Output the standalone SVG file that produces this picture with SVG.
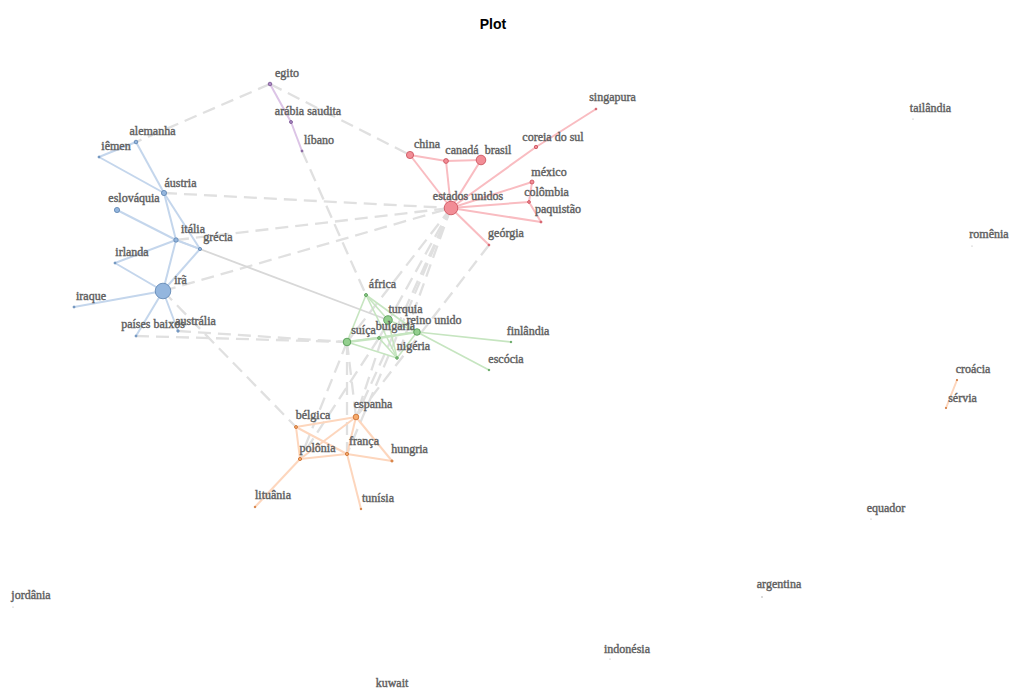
<svg xmlns="http://www.w3.org/2000/svg" width="1009" height="688" viewBox="0 0 1009 688">
<style>
.t{font-family:"Liberation Serif","DejaVu Serif",serif;font-size:12px;fill:#606060;text-anchor:middle;stroke:#606060;stroke-width:0.4}
.title{font-family:"Liberation Sans",Arial,sans-serif;font-size:14px;font-weight:bold;fill:#000;text-anchor:middle}
.gd{stroke:#e0e0e0;stroke-width:2.3;stroke-dasharray:13 7;fill:none}
.gs{stroke:#d8d8d8;stroke-width:1.8;fill:none}
.eb{stroke:#c4d6ec;stroke-width:2;fill:none}
.er{stroke:#f9bcc1;stroke-width:2;fill:none}
.eg{stroke:#c6e5c0;stroke-width:1.6;fill:none}
.eo{stroke:#fdd6bd;stroke-width:2;fill:none}
.ep{stroke:#dcc4e6;stroke-width:2;fill:none}
.nb{fill:#94b6de;stroke:#5a82ae;stroke-width:0.8}
.nr{fill:#f28d96;stroke:#c84a55;stroke-width:0.8}
.ng{fill:#93cf8e;stroke:#4a944a;stroke-width:0.8}
.no{fill:#f6aa6c;stroke:#c86a28;stroke-width:0.8}
.np{fill:#ad8ac6;stroke:#74508e;stroke-width:0.8}
.nx{fill:#aaa;stroke:none}
</style>
<rect width="1009" height="688" fill="#fff"/>
<text class="title" x="493" y="29">Plot</text>
<g id="connectors">
  <line class="gd" x1="270" y1="84" x2="410" y2="155"/>
  <line class="gd" x1="270" y1="84" x2="136" y2="142"/>
  <line class="gd" x1="302" y1="151" x2="366" y2="295"/>
  <line class="gd" x1="164" y1="193" x2="451" y2="208"/>
  <line class="gd" x1="176" y1="240" x2="451" y2="208"/>
  <line class="gd" x1="163" y1="291" x2="451" y2="208"/>
  <line class="gd" x1="163" y1="291" x2="296" y2="427"/>
  <line class="gd" x1="136" y1="336" x2="347" y2="342"/>
  <line class="gd" x1="178" y1="331" x2="347" y2="342"/>
  <line class="gd" x1="347" y1="342" x2="300" y2="459"/>
  <line class="gd" x1="347" y1="342" x2="347" y2="454"/>
  <line class="gd" x1="347" y1="342" x2="356" y2="417"/>
  <line class="gd" x1="451" y1="208" x2="347" y2="342"/>
  <line class="gd" x1="451" y1="208" x2="379" y2="338"/>
  <line class="gd" x1="451" y1="208" x2="397" y2="358"/>
  <line class="gd" x1="451" y1="208" x2="356" y2="417"/>
  <line class="gd" x1="451" y1="208" x2="347" y2="454"/>
  <line class="gd" x1="489" y1="245" x2="356" y2="417"/>
  <line class="gd" x1="379" y1="338" x2="300" y2="459"/>
  <line class="gd" x1="388" y1="320" x2="356" y2="417"/>
  <line class="gs" x1="176" y1="240" x2="388" y2="320"/>
  <line class="ep" x1="270" y1="84" x2="291" y2="122"/>
  <line class="ep" x1="291" y1="122" x2="302" y2="151"/>
  <line class="eb" x1="136" y1="142" x2="99" y2="157"/>
  <line class="eb" x1="99" y1="157" x2="164" y2="193"/>
  <line class="eb" x1="136" y1="142" x2="164" y2="193"/>
  <line class="eb" x1="164" y1="193" x2="176" y2="240"/>
  <line class="eb" x1="164" y1="193" x2="200" y2="249"/>
  <line class="eb" x1="117" y1="210" x2="176" y2="240"/>
  <line class="eb" x1="176" y1="240" x2="200" y2="249"/>
  <line class="eb" x1="176" y1="240" x2="115" y2="263"/>
  <line class="eb" x1="115" y1="263" x2="163" y2="291"/>
  <line class="eb" x1="176" y1="240" x2="163" y2="291"/>
  <line class="eb" x1="200" y1="249" x2="163" y2="291"/>
  <line class="eb" x1="163" y1="291" x2="74" y2="307"/>
  <line class="eb" x1="163" y1="291" x2="136" y2="336"/>
  <line class="eb" x1="163" y1="291" x2="178" y2="331"/>
  <line class="er" x1="410" y1="155" x2="446" y2="161"/>
  <line class="er" x1="446" y1="161" x2="481" y2="160"/>
  <line class="er" x1="410" y1="155" x2="451" y2="208"/>
  <line class="er" x1="446" y1="161" x2="451" y2="208"/>
  <line class="er" x1="481" y1="160" x2="451" y2="208"/>
  <line class="er" x1="451" y1="208" x2="536" y2="147"/>
  <line class="er" x1="536" y1="147" x2="596" y2="109"/>
  <line class="er" x1="451" y1="208" x2="532" y2="182"/>
  <line class="er" x1="451" y1="208" x2="529" y2="202"/>
  <line class="er" x1="451" y1="208" x2="541" y2="222"/>
  <line class="er" x1="532" y1="182" x2="529" y2="202"/>
  <line class="er" x1="529" y1="202" x2="541" y2="222"/>
  <line class="er" x1="451" y1="208" x2="489" y2="245"/>
  <line class="eg" x1="366" y1="295" x2="347" y2="342"/>
  <line class="eg" x1="366" y1="295" x2="388" y2="320"/>
  <line class="eg" x1="366" y1="295" x2="417" y2="332"/>
  <line class="eg" x1="366" y1="295" x2="397" y2="358"/>
  <line class="eg" x1="347" y1="342" x2="379" y2="338" style="stroke-width:2.4"/>
  <line class="eg" x1="379" y1="338" x2="417" y2="332" style="stroke-width:2.4"/>
  <line class="eg" x1="347" y1="342" x2="417" y2="332"/>
  <line class="eg" x1="347" y1="342" x2="397" y2="358"/>
  <line class="eg" x1="379" y1="338" x2="397" y2="358"/>
  <line class="eg" x1="388" y1="320" x2="397" y2="358"/>
  <line class="eg" x1="417" y1="332" x2="397" y2="358"/>
  <line class="eg" x1="388" y1="320" x2="417" y2="332"/>
  <line class="eg" x1="417" y1="332" x2="511" y2="342"/>
  <line class="eg" x1="417" y1="332" x2="489" y2="370"/>
  <line class="eo" x1="296" y1="427" x2="356" y2="417"/>
  <line class="eo" x1="296" y1="427" x2="300" y2="459"/>
  <line class="eo" x1="296" y1="427" x2="347" y2="454"/>
  <line class="eo" x1="300" y1="459" x2="356" y2="417"/>
  <line class="eo" x1="300" y1="459" x2="347" y2="454"/>
  <line class="eo" x1="356" y1="417" x2="347" y2="454"/>
  <line class="eo" x1="356" y1="417" x2="392" y2="461"/>
  <line class="eo" x1="347" y1="454" x2="392" y2="461"/>
  <line class="eo" x1="300" y1="459" x2="255" y2="507"/>
  <line class="eo" x1="347" y1="454" x2="361" y2="509"/>
  <line class="eo" x1="957" y1="380" x2="946" y2="408"/>
</g>
<g id="n-egito"><circle class="np" cx="270" cy="84" r="1.8"/><text class="t" x="287" y="77">egito</text></g>
<g id="n-arabia"><circle class="np" cx="291" cy="122" r="1.5"/><text class="t" x="308" y="115">arábia saudita</text></g>
<g id="n-libano"><circle class="np" cx="302" cy="151" r="1"/><text class="t" x="319" y="144">líbano</text></g>
<g id="n-alemanha"><circle class="nb" cx="136" cy="142" r="1.8"/><text class="t" x="152.5" y="135">alemanha</text></g>
<g id="n-iemen"><circle class="nb" cx="99" cy="157" r="1"/><text class="t" x="116" y="150">iêmen</text></g>
<g id="n-austria"><circle class="nb" cx="164" cy="193" r="2.6"/><text class="t" x="180.5" y="187">áustria</text></g>
<g id="n-eslovaquia"><circle class="nb" cx="117" cy="210" r="2.6"/><text class="t" x="134" y="202">eslováquia</text></g>
<g id="n-italia"><circle class="nb" cx="176" cy="240" r="2.2"/><text class="t" x="193" y="233">itália</text></g>
<g id="n-grecia"><circle class="nb" cx="200" cy="249" r="1.6"/><text class="t" x="218" y="241">grécia</text></g>
<g id="n-irlanda"><circle class="nb" cx="115" cy="263" r="1"/><text class="t" x="132" y="256">irlanda</text></g>
<g id="n-ira"><circle class="nb" cx="163" cy="291" r="7.8"/><text class="t" x="180.5" y="284">irã</text></g>
<g id="n-iraque"><circle class="nb" cx="74" cy="307" r="1"/><text class="t" x="91" y="300">iraque</text></g>
<g id="n-paisesbaixos"><circle class="nb" cx="136" cy="336" r="1"/><text class="t" x="153" y="328">países baixos</text></g>
<g id="n-australia"><circle class="nb" cx="178" cy="331" r="1.2"/><text class="t" x="195.5" y="325">austrália</text></g>
<g id="n-china"><circle class="nr" cx="410" cy="155" r="3.6"/><text class="t" x="427" y="148">china</text></g>
<g id="n-canada"><circle class="nr" cx="446" cy="161" r="2.4"/><text class="t" x="462" y="154">canadá</text></g>
<g id="n-brasil"><circle class="nr" cx="481" cy="160" r="4.8"/><text class="t" x="498" y="154">brasil</text></g>
<g id="n-coreia"><circle class="nr" cx="536" cy="147" r="1.7"/><text class="t" x="553" y="141">coreia do sul</text></g>
<g id="n-singapura"><circle class="nr" cx="596" cy="109" r="0.9"/><text class="t" x="612.5" y="101">singapura</text></g>
<g id="n-mexico"><circle class="nr" cx="532" cy="182" r="2"/><text class="t" x="549" y="176">méxico</text></g>
<g id="n-colombia"><circle class="nr" cx="529" cy="202" r="1.4"/><text class="t" x="546.5" y="196">colômbia</text></g>
<g id="n-paquistao"><circle class="nr" cx="541" cy="222" r="1"/><text class="t" x="558" y="213">paquistão</text></g>
<g id="n-eua"><circle class="nr" cx="451" cy="208" r="6.8"/><text class="t" x="468" y="200">estados unidos</text></g>
<g id="n-georgia"><circle class="nr" cx="489" cy="245" r="0.9"/><text class="t" x="506" y="237">geórgia</text></g>
<g id="n-africa"><circle class="ng" cx="366" cy="295" r="1.5"/><text class="t" x="382.5" y="288">áfrica</text></g>
<g id="n-turquia"><circle class="ng" cx="388" cy="320" r="4.3"/><text class="t" x="405.5" y="313">turquia</text></g>
<g id="n-suica"><circle class="ng" cx="347" cy="342" r="3.8"/><text class="t" x="363.5" y="334">suíça</text></g>
<g id="n-bulgaria"><circle class="ng" cx="379" cy="338" r="1.4"/><text class="t" x="395.5" y="330">bulgaria</text></g>
<g id="n-reinounido"><circle class="ng" cx="417" cy="332" r="3.3"/><text class="t" x="434" y="324">reino unido</text></g>
<g id="n-nigeria"><circle class="ng" cx="397" cy="358" r="1.3"/><text class="t" x="413.5" y="350">nigéria</text></g>
<g id="n-finlandia"><circle class="ng" cx="511" cy="342" r="0.8"/><text class="t" x="528" y="335">finlândia</text></g>
<g id="n-escocia"><circle class="ng" cx="489" cy="370" r="0.8"/><text class="t" x="506" y="363">escócia</text></g>
<g id="n-espanha"><circle class="no" cx="356" cy="417" r="2.8"/><text class="t" x="373" y="407.5">espanha</text></g>
<g id="n-belgica"><circle class="no" cx="296" cy="427" r="1.5"/><text class="t" x="313" y="419">bélgica</text></g>
<g id="n-polonia"><circle class="no" cx="300" cy="459" r="1.6"/><text class="t" x="317.5" y="452">polônia</text></g>
<g id="n-franca"><circle class="no" cx="347" cy="454" r="1.6"/><text class="t" x="364" y="445">frança</text></g>
<g id="n-hungria"><circle class="no" cx="392" cy="461" r="1.1"/><text class="t" x="409.5" y="453">hungria</text></g>
<g id="n-lituania"><circle class="no" cx="255" cy="507" r="0.8"/><text class="t" x="273" y="499">lituânia</text></g>
<g id="n-tunisia"><circle class="no" cx="361" cy="509" r="0.8"/><text class="t" x="378" y="502">tunísia</text></g>
<g id="n-croacia"><circle class="no" cx="957" cy="380" r="0.7"/><text class="t" x="973" y="373">croácia</text></g>
<g id="n-servia"><circle class="no" cx="946" cy="408" r="0.7"/><text class="t" x="962.5" y="402">sérvia</text></g>
<g id="n-tailandia"><circle class="nx" cx="913" cy="119" r="0.6"/><text class="t" x="930.5" y="112">tailândia</text></g>
<g id="n-romenia"><circle class="nx" cx="972" cy="246" r="0.6"/><text class="t" x="989" y="238">romênia</text></g>
<g id="n-equador"><circle class="nx" cx="871" cy="519" r="0.6"/><text class="t" x="886" y="512">equador</text></g>
<g id="n-argentina"><circle class="nx" cx="762" cy="597" r="0.8"/><text class="t" x="779" y="588">argentina</text></g>
<g id="n-jordania"><circle class="nx" cx="13" cy="607" r="0.6"/><text class="t" x="31" y="599">jordânia</text></g>
<g id="n-indonesia"><circle class="nx" cx="610" cy="659" r="0.6"/><text class="t" x="627" y="653">indonésia</text></g>
<g id="n-kuwait"><text class="t" x="392" y="687">kuwait</text></g>
</svg>
